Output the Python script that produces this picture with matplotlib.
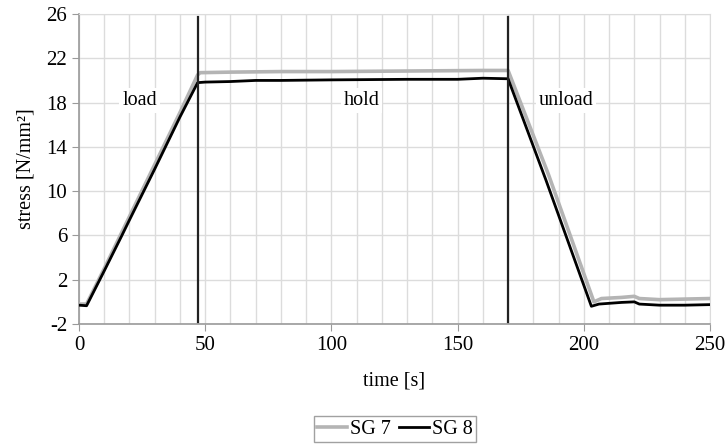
import numpy as np
import matplotlib
matplotlib.use("Agg")
import matplotlib.pyplot as plt

# readings (time in s, stress in N/mm²)
t_sg7 = [0, 3, 10, 17, 30, 40, 47, 48, 60, 80, 100, 130, 160, 170,
         186, 204, 207, 215, 220, 222, 230, 240, 250]
s_sg7 = [-0.2, -0.2, 3.0, 6.3, 12.4, 17.1, 20.5, 20.7, 20.75, 20.8, 20.8, 20.85, 20.9, 20.9,
         11.5, 0.0, 0.3, 0.4, 0.5, 0.3, 0.2, 0.25, 0.3]
t_sg8 = [0, 3, 10, 17, 20, 30, 40, 47, 50, 60, 70, 80, 100, 130, 150, 160, 170,
         185, 203, 206, 215, 220, 222, 230, 240, 250]
s_sg8 = [-0.3, -0.35, 2.8, 6.0, 7.4, 12.0, 16.7, 19.8, 19.85, 19.9, 20.0, 20.0, 20.05, 20.1,
         20.1, 20.2, 20.15, 11.0, -0.4, -0.2, -0.05, 0.0, -0.2, -0.3, -0.3, -0.25]

phase_bounds = [47, 170]
phase_names = ["load", "hold", "unload"]
phase_x = [24, 112, 193]

plt.rcParams.update({"font.family": "Liberation Serif", "font.size": 15,
                     "axes.unicode_minus": False})

fig = plt.figure(figsize=(7.28, 4.46), dpi=100)
ax = fig.add_axes([79 / 728, 1 - 324 / 446, (710 - 79) / 728, (324 - 14) / 446])

ax.plot(t_sg7, s_sg7, color="#b4b4b4", lw=2.6, label="SG 7", zorder=3)
ax.plot(t_sg8, s_sg8, color="black", lw=2.0, label="SG 8", zorder=4)
for xb in phase_bounds:
    ax.plot([xb, xb], [-1.8, 25.7], color="#222222", lw=1.6, zorder=5)
for name, xp in zip(phase_names, phase_x):
    ax.text(xp, 18.2, name, ha="center", va="center", fontsize=14.5,
            bbox=dict(facecolor="white", edgecolor="none", pad=2), zorder=2)

ax.set_xlim(0, 250)
ax.set_ylim(-2, 26)
ax.set_xticks(np.arange(0, 251, 50))
ax.set_xticks(np.arange(0, 251, 10), minor=True)
ax.set_yticks(np.arange(-2, 27, 4))
ax.grid(True, which="both", color="#dcdcdc", lw=1)
ax.set_axisbelow(True)
ax.tick_params(which="minor", length=0)
ax.tick_params(which="major", direction="out", length=5, color="#9a9a9a", labelsize=15)
for side in ["top", "right"]:
    ax.spines[side].set_color("#dcdcdc")
for side in ["left", "bottom"]:
    ax.spines[side].set_color("#9a9a9a")
    ax.spines[side].set_linewidth(1.2)

ax.set_xlabel("time [s]", fontsize=14.5, labelpad=12)
ax.set_ylabel("stress [N/mm²]", fontsize=14.5, labelpad=8)

leg = ax.legend(loc="center", bbox_to_anchor=(395 / 728, 1 - 429 / 446),
                bbox_transform=fig.transFigure, ncol=2, frameon=True,
                fancybox=False, edgecolor="#8a8a8a", fontsize=14.5, handlelength=1.5,
                handletextpad=0.15, columnspacing=0.4, borderpad=0.15)
leg.get_frame().set_linewidth(1.0)

fig.savefig("out.png", dpi=100)
